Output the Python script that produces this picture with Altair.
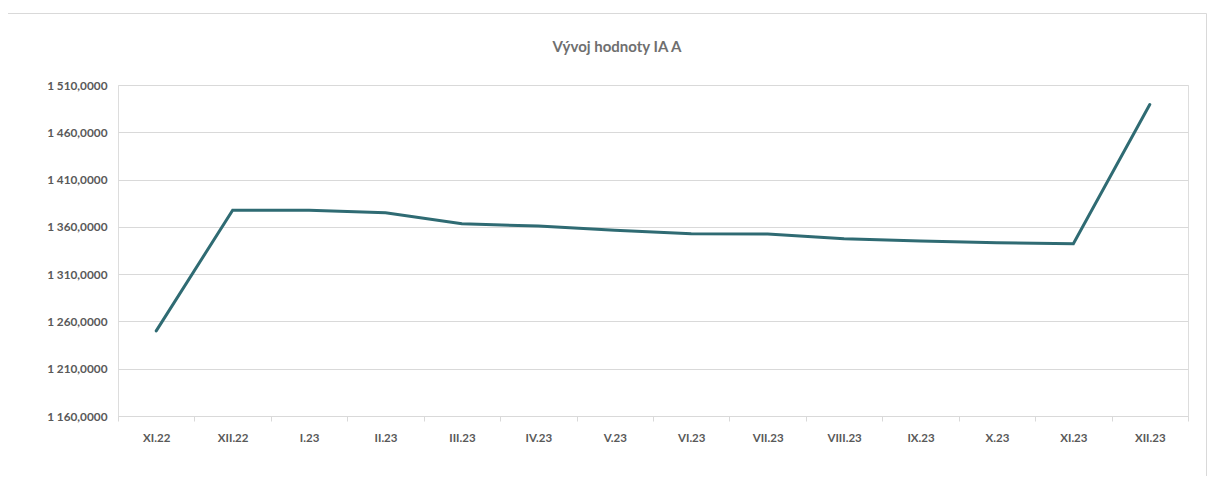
import altair as alt
import pandas as pd

months = ["XI.22", "XII.22", "I.23", "II.23", "III.23", "IV.23", "V.23",
          "VI.23", "VII.23", "VIII.23", "IX.23", "X.23", "XI.23", "XII.23"]
values = [1250.0, 1377.6, 1377.5, 1374.9, 1363.3, 1360.8, 1356.5,
          1352.7, 1352.5, 1347.4, 1345.1, 1343.2, 1342.1, 1489.4]
y_ticks = [1160, 1210, 1260, 1310, 1360, 1410, 1460, 1510]
title_text = ["Vývoj hodnoty IA A"]

df = pd.DataFrame({"month": months, "value": values})

FONT = "Lato"
LABEL_COLOR = "#595959"
GRID = "#d9d9d9"

border = alt.Chart(pd.DataFrame({"a": [0]})).mark_rect(
    fill=None, stroke=GRID, strokeWidth=1
).encode(
    x=alt.value(-110.5), x2=alt.value(1088.5),
    y=alt.value(-71.5), y2=alt.value(430)
)

title = alt.Chart(pd.DataFrame({"t": title_text})).mark_text(
    font=FONT, fontSize=15, fontWeight="bold", color="#6f6f6f",
    align="center", baseline="alphabetic"
).encode(text="t:N", x=alt.value(499), y=alt.value(-33))

line = alt.Chart(df).mark_line(color="#2F6B73", strokeWidth=3, strokeCap="round").encode(
    x=alt.X("month:N", sort=months, title=None,
            scale=alt.Scale(paddingInner=0, paddingOuter=0),
            axis=alt.Axis(labelAngle=0, tickBand="extent", domainColor=GRID,
                          tickColor=GRID, tickSize=5, labelPadding=11,
                          labelFont=FONT, labelFontSize=11.5, labelFontWeight="bold",
                          labelColor=LABEL_COLOR, grid=False)),
    y=alt.Y("value:Q", title=None,
            scale=alt.Scale(domain=[1160, 1510], nice=False, zero=False),
            axis=alt.Axis(values=y_ticks, domain=False, ticks=False, gridColor=GRID,
                          labelPadding=11, labelFont=FONT, labelFontSize=11.8,
                          labelFontWeight="bold", labelColor=LABEL_COLOR,
                          labelExpr="replace(replace(format(datum.value, ',.4f'), ',', ' '), '.', ',')"))
)

chart = alt.layer(border, line, title).properties(
    width=1070, height=331,
    autosize=alt.AutoSizeParams(type="none"),
    padding={"left": 110, "top": 77, "right": 19, "bottom": 60},
).configure_view(stroke=None).configure(background="white")

chart.save("out.html", embed_options={"renderer": "svg", "actions": False})
